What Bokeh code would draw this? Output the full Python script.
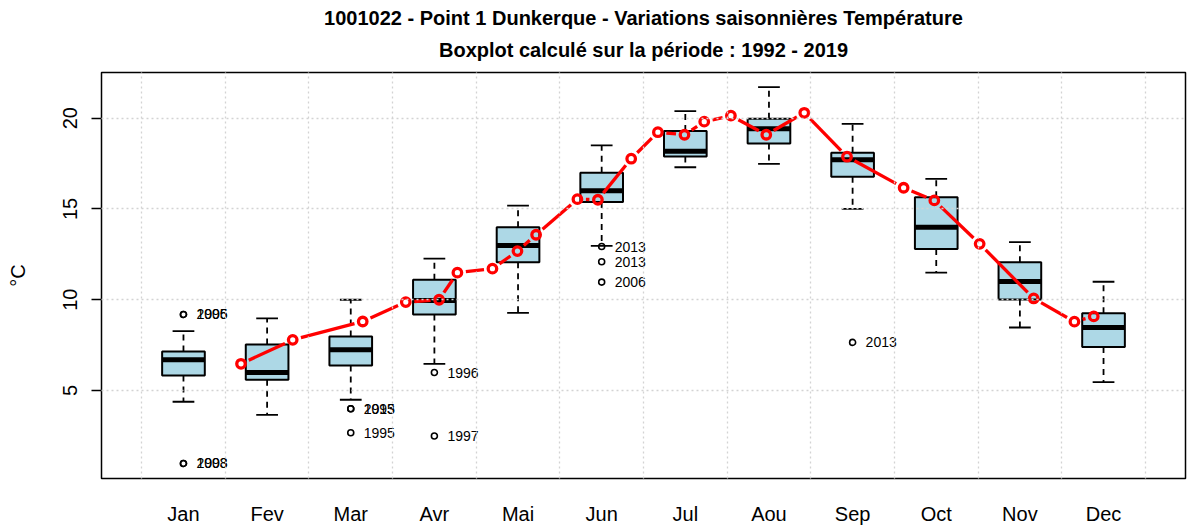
import math
from bokeh.plotting import figure
from bokeh.models import FixedTicker, Range1d, Title
from bokeh.core.properties import value
from bokeh.embed import file_html
from bokeh.resources import INLINE

# ---------------- data ----------------
mois = ["Jan", "Fev", "Mar", "Avr", "Mai", "Jun", "Jul", "Aou", "Sep", "Oct", "Nov", "Dec"]
pos = list(range(1, 13))

moust_bas = [4.38, 3.66, 4.49, 6.47, 9.28, 12.97, 17.30, 17.49, 15.01, 11.49, 8.47, 5.46]
q1 = [5.83, 5.59, 6.38, 9.19, 12.07, 15.38, 17.89, 18.61, 16.77, 12.79, 10.01, 7.39]
mediane = [6.69, 5.99, 7.24, 9.96, 12.99, 16.00, 18.18, 19.42, 17.71, 14.00, 11.00, 8.47]
q3 = [7.15, 7.54, 7.98, 11.10, 14.00, 17.00, 19.29, 19.97, 18.10, 15.65, 12.07, 9.26]
moust_haut = [8.27, 8.97, 10.00, 12.27, 15.18, 18.50, 20.39, 21.71, 19.69, 16.66, 13.17, 10.99]

out_mois = [1, 1, 1, 1, 3, 3, 3, 4, 4, 6, 6, 6, 9]
out_val = [9.19, 9.19, 0.98, 0.98, 3.99, 3.99, 2.67, 5.99, 2.49, 12.93, 12.09, 10.97, 7.65]
out_annee = ["2006", "1995", "1998", "2003", "2013", "1995", "1995", "1996", "1997",
             "2013", "2013", "2006", "2013"]

# red series (position in fractional months)
ligne_x = [1.688, 2.306, 3.143, 3.658, 4.056, 4.275, 4.694, 4.993, 5.216, 5.710, 5.955,
           6.353, 6.672, 6.990, 7.226, 7.545, 7.968, 8.422, 8.933, 9.610, 9.977, 10.519,
           11.165, 11.652, 11.883]
ligne_y = [6.47, 7.79, 8.80, 9.87, 10.00, 11.49, 11.71, 12.68, 13.58, 15.54, 15.51,
           17.77, 19.23, 19.09, 19.81, 20.14, 19.09, 20.30, 17.88, 16.17, 15.47, 13.08,
           10.07, 8.79, 9.08]

titre1 = "1001022 - Point 1 Dunkerque - Variations saisonnières Température"
titre2 = "Boxplot calculé sur la période : 1992 - 2019"

# ---------------- figure ----------------
FW, FH = 1084, 406
X0, X1 = 0.02, 12.98
Y0, Y1 = 0.15, 22.52
FONT = "Liberation Sans"

p = figure(frame_width=FW, frame_height=FH,
           min_border_left=101, min_border_right=2, min_border_top=72, min_border_bottom=48,
           x_range=Range1d(X0, X1), y_range=Range1d(Y0, Y1),
           output_backend="svg", toolbar_location=None)
p.background_fill_color = "white"
p.border_fill_color = "white"
p.outline_line_color = "black"
p.outline_line_width = 1.5
p.outline_line_alpha = 1.0

p.add_layout(Title(text=titre2, align="center", text_font=FONT, text_font_size="20px",
                   text_font_style="bold", text_color="black", standoff=23), "above")
p.add_layout(Title(text=titre1, align="center", text_font=FONT, text_font_size="20px",
                   text_font_style="bold", text_color="black", standoff=-7), "above")

# boxes
BW = 0.51
CW = 0.26
p.segment(x0=pos, x1=pos, y0=q3, y1=moust_haut, line_color="black", line_width=1.8, line_dash="6 5")
p.segment(x0=pos, x1=pos, y0=q1, y1=moust_bas, line_color="black", line_width=1.8, line_dash="6 5")
p.segment(x0=[x - CW / 2 for x in pos], x1=[x + CW / 2 for x in pos], y0=moust_haut, y1=moust_haut,
          line_color="black", line_width=1.8)
p.segment(x0=[x - CW / 2 for x in pos], x1=[x + CW / 2 for x in pos], y0=moust_bas, y1=moust_bas,
          line_color="black", line_width=1.8)
p.vbar(x=pos, width=BW, bottom=q1, top=q3, fill_color="#ADD8E6", line_color="black", line_width=2)
p.segment(x0=[x - BW / 2 for x in pos], x1=[x + BW / 2 for x in pos], y0=mediane, y1=mediane,
          line_color="black", line_width=5, line_cap="butt")

# outliers
p.scatter(x=out_mois, y=out_val, marker="circle", size=6, fill_color=None,
          line_color="black", line_width=1.6)
p.text(x=out_mois, y=out_val, text=out_annee, x_offset=13, text_baseline="middle",
       text_align="left", text_font=value(FONT), text_font_size="14px", text_color="black")

# red line with gaps around points (R type="b")
sx = FW / (X1 - X0)
sy = FH / (Y1 - Y0)
gap = 8.5
sx0, sx1, sy0, sy1 = [], [], [], []
for i in range(len(ligne_x) - 1):
    xa, ya, xb, yb = ligne_x[i], ligne_y[i], ligne_x[i + 1], ligne_y[i + 1]
    L = math.hypot((xb - xa) * sx, (yb - ya) * sy)
    f = gap / L
    if f < 0.5:
        sx0.append(xa + f * (xb - xa))
        sy0.append(ya + f * (yb - ya))
        sx1.append(xb - f * (xb - xa))
        sy1.append(yb - f * (yb - ya))
p.segment(x0=sx0, y0=sy0, x1=sx1, y1=sy1, line_color="#FF0000", line_width=3.3, line_cap="butt")
p.scatter(x=ligne_x, y=ligne_y, marker="circle", size=8.5, fill_color=None,
          line_color="#FF0000", line_width=3.3)

# grid (drawn over everything, like R grid())
p.xgrid.ticker = FixedTicker(ticks=[k + 0.5 for k in range(0, 13)])
p.ygrid.ticker = FixedTicker(ticks=[5, 10, 15, 20])
for g in (p.xgrid, p.ygrid):
    g.grid_line_color = "#D3D3D3"
    g.grid_line_dash = "2 3"
    g.grid_line_width = 1.3
    g.level = "overlay"

# axes
p.xaxis.ticker = FixedTicker(ticks=pos)
p.xaxis.major_label_overrides = {k: m for k, m in zip(pos, mois)}
p.xaxis.major_tick_out = 0
p.xaxis.major_tick_in = 0
p.xaxis.minor_tick_line_color = None
p.xaxis.axis_line_color = None
p.xaxis.major_label_standoff = 24
p.xaxis.major_label_text_font = FONT
p.xaxis.major_label_text_font_size = "20px"
p.xaxis.major_label_text_color = "black"

p.yaxis.ticker = FixedTicker(ticks=[5, 10, 15, 20])
p.yaxis.major_tick_out = 10
p.yaxis.major_tick_in = 0
p.yaxis.major_tick_line_width = 1.5
p.yaxis.major_tick_line_color = "black"
p.yaxis.minor_tick_line_color = None
p.yaxis.axis_line_color = None
p.yaxis.major_label_orientation = "vertical"
p.yaxis.major_label_standoff = 14
p.yaxis.major_label_text_font = FONT
p.yaxis.major_label_text_font_size = "20px"
p.yaxis.major_label_text_color = "black"
p.yaxis.axis_label = "°C"
p.yaxis.axis_label_text_font = FONT
p.yaxis.axis_label_text_font_size = "20px"
p.yaxis.axis_label_text_font_style = "normal"
p.yaxis.axis_label_text_color = "black"
p.yaxis.axis_label_standoff = 32

open("out.html", "w").write(file_html(p, INLINE))
